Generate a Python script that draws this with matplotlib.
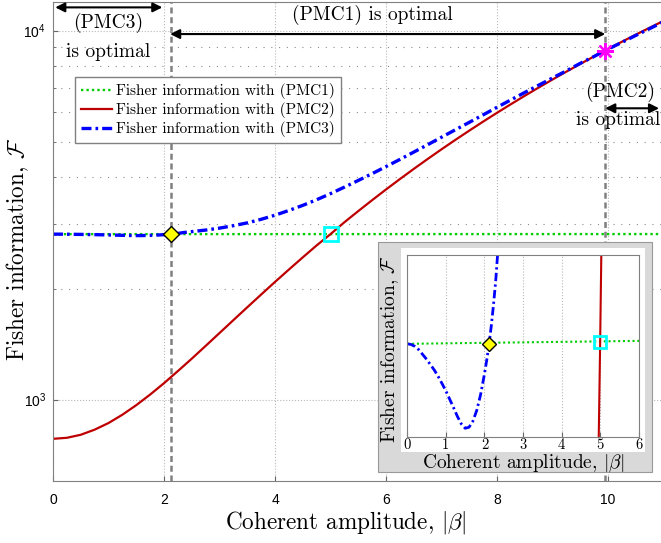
import matplotlib
matplotlib.use('Agg')
import matplotlib.pyplot as plt
from matplotlib.patches import Rectangle
from matplotlib.ticker import FixedLocator, NullFormatter

plt.rcParams['font.family'] = ['Liberation Sans', 'DejaVu Sans']
plt.rcParams['mathtext.fontset'] = 'cm'

# Fisher information with (PMC1): flat line
beta_pmc1 = [0.0, 11.0]
fisher_pmc1 = [2807.6, 2809.2]

# Fisher information with (PMC2)
beta_pmc2 = [0.0, 0.25, 0.5, 0.75, 1.0, 1.25, 1.5, 1.75, 2.0, 2.25, 2.5, 2.75,
             3.0, 3.25, 3.5, 3.75, 4.0, 4.25, 4.5, 4.75, 5.0, 5.25, 5.5, 5.75,
             6.0, 6.25, 6.5, 6.75, 7.0, 7.25, 7.5, 7.75, 8.0, 8.25, 8.5, 8.75,
             9.0, 9.25, 9.5, 9.75, 9.95, 10.25, 10.5, 10.75, 11.0]
fisher_pmc2 = [783, 788, 803, 829, 864, 910, 966, 1032, 1108, 1195, 1291, 1398,
               1515, 1642, 1779, 1926, 2084, 2251, 2429, 2617, 2808, 3024, 3242, 3471,
               3710, 3959, 4218, 4487, 4767, 5056, 5356, 5666, 5986, 6316, 6657, 7007,
               7368, 7739, 8120, 8512, 8830, 9325, 9746, 10178, 10620]

# Fisher information with (PMC3)
beta_pmc3 = [0.0, 0.1, 0.2, 0.3, 0.4, 0.5, 0.6, 0.7, 0.8, 0.9, 1.0, 1.1, 1.2,
             1.3, 1.4, 1.5, 1.6, 1.7, 1.8, 1.9, 2.0, 2.06, 2.12, 2.18, 2.23, 2.29,
             2.34, 2.5, 2.75, 3.0, 3.25, 3.5, 3.75, 4.0, 4.25, 4.5, 4.75, 5.0,
             5.25, 5.5, 5.75, 6.0, 6.25, 6.5, 6.75, 7.0, 7.25, 7.5, 7.75, 8.0,
             8.25, 8.5, 8.75, 9.0, 9.25, 9.5, 9.75, 9.95, 10.25, 10.5, 10.75, 11.0]
fisher_pmc3 = [2807.6, 2807.4, 2806.8, 2805.8, 2804.4, 2803.0, 2801.4, 2799.8,
               2797.9, 2795.8, 2793.6, 2791.1, 2788.6, 2786.0, 2783.8, 2782.5,
               2782.8, 2784.6, 2787.8, 2792.5, 2798.6, 2802.8, 2807.6, 2813.2,
               2818.7, 2826.0, 2834, 2852, 2880, 2915, 2960, 3012, 3080, 3160,
               3255, 3360, 3480, 3615, 3765, 3925, 4095, 4280, 4475, 4685, 4905,
               5140, 5385, 5640, 5910, 6195, 6490, 6795, 7110, 7440, 7780, 8150,
               8510, 8830, 9290, 9700, 10120, 10570]

# special points
beta_switch = [2.12, 9.95]
fisher_switch = [2807.6, 8830]
beta_cross = 5.0
fisher_cross = 2808.0

minor_y = [2000, 3000, 4000, 5000, 6000, 7000, 8000, 9000]

c_green = (0.0, 0.8, 0.0)
c_red = (0.75, 0.0, 0.0)
c_blue = (0.0, 0.0, 1.0)
ls_green = (0, (1.0, 1.3))
ls_blue = (0, (3.0, 1.2, 0.8, 1.2))

fig = plt.figure(figsize=(6.61, 5.43), dpi=100)
ax = fig.add_axes([0.0802, 0.1133, 0.9236, 0.8830])

ax.plot(beta_pmc1, fisher_pmc1, color=c_green, lw=1.7, ls=ls_green,
        label='Fisher information with (PMC1)')
ax.plot(beta_pmc2, fisher_pmc2, color=c_red, lw=1.6, ls='-',
        label='Fisher information with (PMC2)')
ax.plot(beta_pmc3, fisher_pmc3, color=c_blue, lw=2.4, ls=ls_blue,
        label='Fisher information with (PMC3)')

# boundaries of the optimal regions
for b in beta_switch:
    ax.axvline(b, color='0.5', lw=1.8, ls=(0, (2.4, 1.5)), zorder=1)

ax.plot(beta_switch[0], fisher_switch[0], marker='D', ms=8, mfc='yellow',
        mec='black', mew=1.0, ls='none', zorder=5)
ax.plot(beta_cross, fisher_cross, marker='s', ms=10, mfc='none',
        mec='cyan', mew=2.0, ls='none', zorder=5)
ax.plot(beta_switch[1], fisher_switch[1], marker=(8, 2, 0), ms=12,
        mec='magenta', mew=1.6, ls='none', zorder=5)

ax.set_yscale('log')
ax.set_xlim(0, 11)
ax.set_ylim(600, 11950)
ax.set_xticks([0, 2, 4, 6, 8, 10])
ax.yaxis.set_minor_locator(FixedLocator(minor_y))
ax.yaxis.set_minor_formatter(NullFormatter())

ax.grid(True, which='major', axis='both', ls=':', color='0.72', lw=0.8)
ax.grid(True, which='minor', axis='y', ls=(0, (1, 6)), color='0.55', lw=0.8)
ax.tick_params(which='both', direction='in', color='0.4', labelsize=10)
ax.tick_params(axis='x', pad=8)
ax.tick_params(axis='y', pad=5)
ax.tick_params(which='minor', length=2)
for s in ax.spines.values():
    s.set_color('0.5')

ax.set_xlabel(r'Coherent amplitude, $|\beta|$', fontfamily='cmr10',
              fontsize=16.7, va='center')
ax.xaxis.set_label_coords(0.48, -0.085)
ax.set_ylabel(r'Fisher information, $\mathcal{F}$', fontfamily='cmr10',
              fontsize=16.7, va='center')
ax.yaxis.set_label_coords(-0.057, 0.485)

ax.legend(loc='upper left', bbox_to_anchor=(0.036, 0.8436), borderaxespad=0,
          prop=dict(family='cmr10', size=11), fancybox=False, framealpha=1,
          edgecolor='0.5', handlelength=2.0, handletextpad=0.3,
          labelspacing=0.2, borderpad=0.4)

# optimal-region arrows and texts
arr = dict(arrowstyle='<|-|>', color='black', lw=1.5,
           mutation_scale=14, shrinkA=0, shrinkB=0)
ax.annotate('', xy=(0.04, 11556), xytext=(1.97, 11556), arrowprops=arr)
ax.annotate('', xy=(2.11, 9784), xytext=(9.95, 9784), arrowprops=arr)
ax.annotate('', xy=(9.95, 6157), xytext=(10.92, 6157), arrowprops=arr)
tkw = dict(fontfamily='cmr10', fontsize=14, ha='center', va='center')
ax.text(1.0, 10500, '(PMC3)', **tkw)
ax.text(1.0, 8762, 'is optimal', **tkw)
ax.text(5.76, 11015, '(PMC1) is optimal', **tkw)
ax.text(10.22, 6831, '(PMC2)', **tkw)
ax.text(10.19, 5728, 'is optimal', **tkw)

# inset
fig.add_artist(Rectangle((0.5719, 0.1308), 0.4145, 0.4235, transform=fig.transFigure,
                         facecolor='#d9d9d9', edgecolor='0.6', lw=0.8, zorder=3))
fig.add_artist(Rectangle((0.6062, 0.1681), 0.3696, 0.3746, transform=fig.transFigure,
                         facecolor='white', edgecolor='none', zorder=4))
axi = fig.add_axes([0.6162, 0.1958, 0.3501, 0.3346])
axi.set_zorder(6)
axi.plot(beta_pmc1, fisher_pmc1, color=c_green, lw=1.5, ls=ls_green)
axi.plot(beta_pmc2, fisher_pmc2, color=c_red, lw=1.5, ls='-')
axi.plot(beta_pmc3, fisher_pmc3, color=c_blue, lw=2.0, ls=ls_blue)
axi.plot(beta_switch[0], fisher_switch[0], marker='D', ms=7, mfc='yellow',
         mec='black', mew=1.0, ls='none', zorder=5)
axi.plot(beta_cross, fisher_cross, marker='s', ms=9, mfc='none',
         mec='cyan', mew=2.0, ls='none', zorder=5)
axi.set_xlim(0, 6)
axi.set_ylim(2780, 2834)
axi.set_xticks(range(7))
axi.set_yticks([])
axi.grid(True, axis='x', ls=':', color='0.72', lw=0.8)
axi.tick_params(direction='in', color='0.4', labelsize=10.5, pad=1.5,
                labelfontfamily='cmr10')
for s in axi.spines.values():
    s.set_color('0.5')
axi.set_xlabel(r'Coherent amplitude, $|\beta|$', fontfamily='cmr10',
               fontsize=14, va='center')
axi.xaxis.set_label_coords(0.5, -0.145)
axi.set_ylabel(r'Fisher information, $\mathcal{F}$', fontfamily='cmr10',
               fontsize=14, va='center')
axi.yaxis.set_label_coords(-0.075, 0.485)

fig.savefig('out.png', dpi=100)
